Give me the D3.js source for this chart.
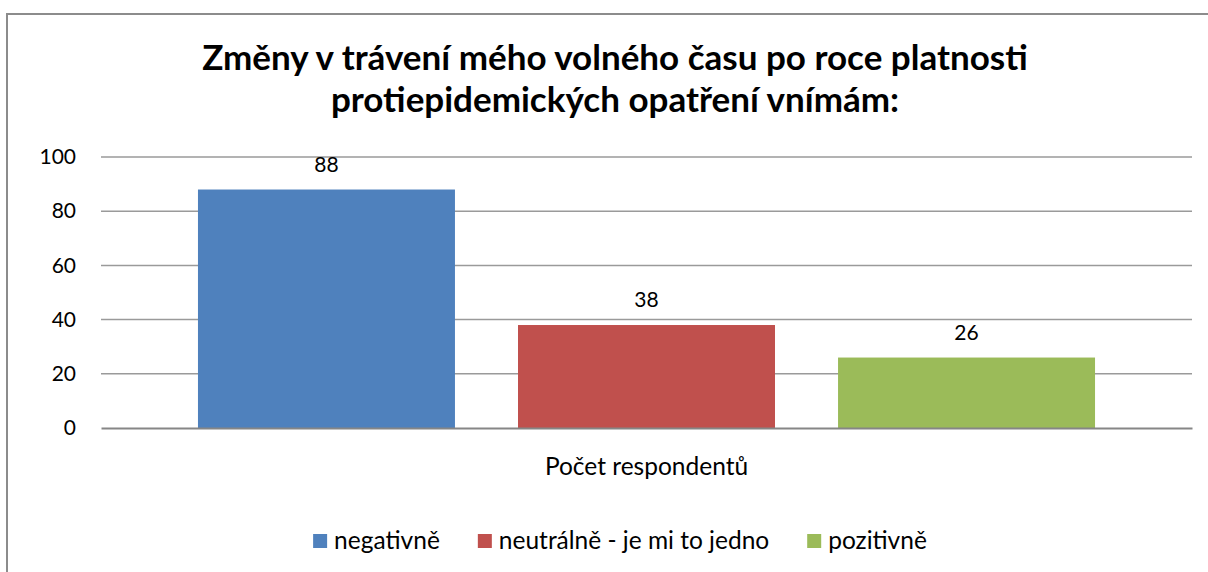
<!DOCTYPE html>
<html>
<head>
<meta charset="utf-8">
<script src="https://cdn.jsdelivr.net/npm/d3@7"></script>
<style>
  body { margin: 0; background: #fff; }
  text { font-family: Lato, "Open Sans", sans-serif; fill: #000; }
</style>
</head>
<body>
<svg></svg>
<script>
const svgWidth = 1208;
const svgHeight = 572;

// data
const titleLines = ["Změny v trávení mého volného času po roce platnosti", "protiepidemických opatření vnímám:"];
const category = "Počet respondentů";
const seriesNames = ["negativně", "neutrálně - je mi to jedno", "pozitivně"];
const seriesValues = [88, 38, 26];
const seriesColors = ["#4f81bd", "#c0504d", "#9bbb59"];
const yTicks = [0, 20, 40, 60, 80, 100];

const margin = {top: 157, right: 16, bottom: 144, left: 101};
const plotW = svgWidth - margin.left - margin.right;
const plotH = svgHeight - margin.top - margin.bottom;

const svg = d3.select("svg")
  .attr("width", svgWidth)
  .attr("height", svgHeight);

// outer chart border (runs off the right/bottom edge like the screenshot)
svg.append("rect")
  .attr("x", 7).attr("y", 14)
  .attr("width", 1240).attr("height", 600)
  .attr("fill", "none")
  .attr("stroke", "#8c8c8c")
  .attr("stroke-width", 2);

const title = svg.append("text")
  .attr("text-anchor", "middle")
  .attr("font-weight", "bold")
  .attr("font-size", 35);
title.selectAll("tspan")
  .data(titleLines)
  .enter()
  .append("tspan")
  .attr("x", 615)
  .attr("y", function(d, i) { return 70 + i * 42; })
  .text(function(d) { return d; });

const g = svg.append("g")
  .attr("transform", "translate(" + margin.left + "," + margin.top + ")");

const y = d3.scaleLinear().domain([0, 100]).range([plotH, 0]);
const x0 = d3.scaleBand().domain([category]).range([0, plotW]);
const x1 = d3.scaleBand()
  .domain(seriesNames)
  .range([0, x0.bandwidth()])
  .paddingInner(0.197)
  .paddingOuter(0.303);

// gridlines
g.selectAll("line.grid")
  .data(yTicks.filter(function(d) { return d > 0; }))
  .enter()
  .append("line")
  .attr("class", "grid")
  .attr("x1", 0).attr("x2", plotW)
  .attr("y1", function(d) { return y(d); })
  .attr("y2", function(d) { return y(d); })
  .attr("stroke", "#9a9a9a")
  .attr("stroke-width", 1.5);

// y axis labels
const yAxis = d3.axisLeft(y).tickValues(yTicks).tickSize(0).tickPadding(25);
const ya = g.append("g").call(yAxis);
ya.select(".domain").remove();
ya.selectAll("text")
  .attr("font-size", 21)
  .attr("font-family", "Lato, 'Open Sans', sans-serif")
  .attr("fill", "#000");

const bars = g.selectAll("rect.bar")
  .data(seriesNames)
  .enter()
  .append("rect")
  .attr("class", "bar")
  .attr("x", function(d) { return x0(category) + x1(d); })
  .attr("width", x1.bandwidth())
  .attr("y", function(d, i) { return y(seriesValues[i]); })
  .attr("height", function(d, i) { return plotH - y(seriesValues[i]); })
  .attr("fill", function(d, i) { return seriesColors[i]; });

g.selectAll("text.val")
  .data(seriesNames)
  .enter()
  .append("text")
  .attr("class", "val")
  .attr("text-anchor", "middle")
  .attr("font-size", 21)
  .attr("x", function(d) { return x0(category) + x1(d) + x1.bandwidth() / 2; })
  .attr("y", function(d, i) { return y(seriesValues[i]) - 18; })
  .text(function(d, i) { return seriesValues[i]; });

// baseline axis
const xAxis = d3.axisBottom(x0).tickSize(0).tickPadding(30);
const xa = g.append("g").attr("transform", "translate(0," + plotH + ")").call(xAxis);
xa.select(".domain").attr("stroke", "#868686").attr("stroke-width", 2);
xa.selectAll("text")
  .attr("font-size", 24.5)
  .attr("font-family", "Lato, 'Open Sans', sans-serif")
  .attr("fill", "#000");

// legend
const legend = svg.append("g");
const items = legend.selectAll("g")
  .data(seriesNames)
  .enter()
  .append("g");
items.append("rect")
  .attr("width", 14).attr("height", 14)
  .attr("y", -15)
  .attr("fill", function(d, i) { return seriesColors[i]; });
items.append("text")
  .attr("x", 21)
  .attr("font-size", 24.5)
  .text(function(d) { return d; });

let offset = 0;
items.each(function() {
  const w = this.getBBox().width;
  d3.select(this).attr("transform", "translate(" + offset + ",0)");
  offset += w + 38;
});
const totalW = offset - 38;
legend.attr("transform", "translate(" + (620 - totalW / 2) + ",549)");
</script>
</body>
</html>
